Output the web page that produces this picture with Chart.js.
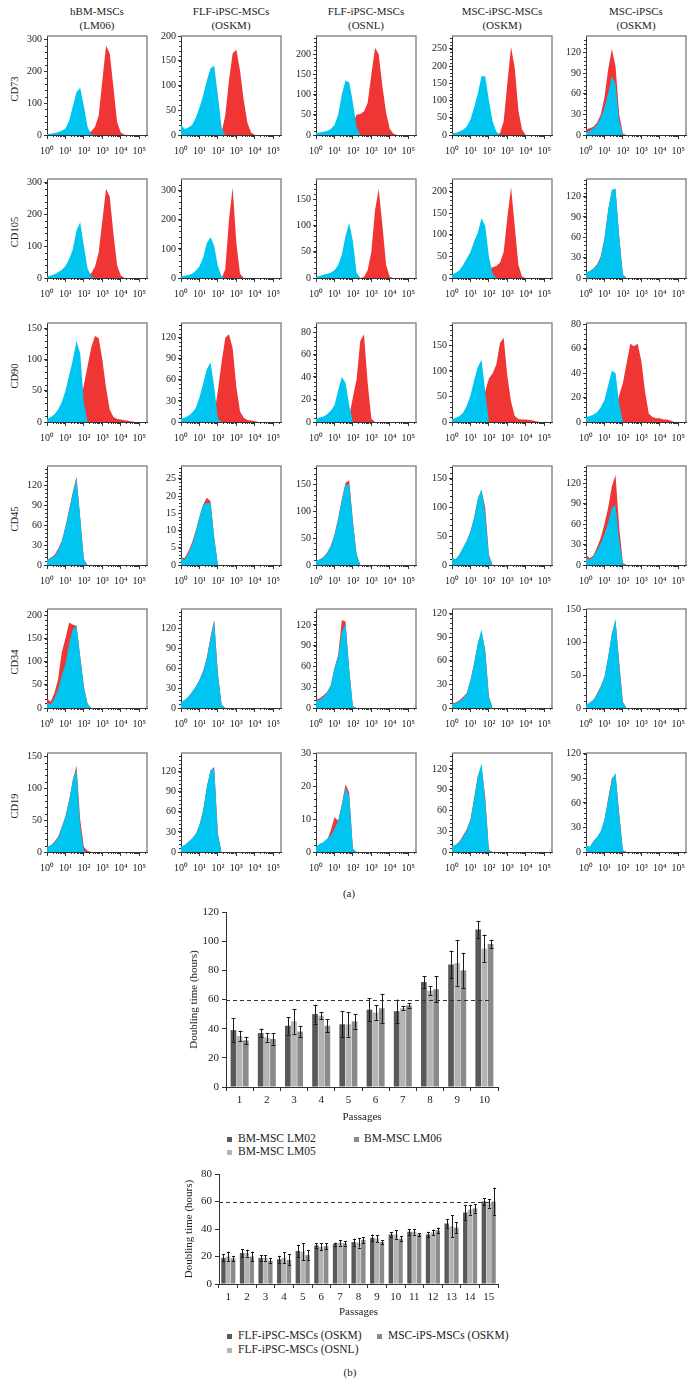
<!DOCTYPE html>
<html>
<head>
<meta charset="utf-8">
<script src="https://cdn.jsdelivr.net/npm/chart.js@4.4.1/dist/chart.umd.min.js"></script>
<style>
  body { margin: 0; background: #fff; width: 693px; height: 1383px; position: relative; overflow: hidden; }
  .box { position: absolute; }
  .txt { position: absolute; white-space: nowrap; line-height: 1; color: #222; font-family: "Liberation Serif", serif; }
  .sq { position: absolute; width: 5px; height: 5px; }
</style>
</head>
<body>
<script>
// ---------- flow cytometry histograms (a) ----------
// x grid in decades (10^0 .. 10^5.2), one value per step of 0.2
var LOGX = [0, 0.2, 0.4, 0.6, 0.8, 1.0, 1.2, 1.4, 1.6, 1.8, 2.0, 2.2, 2.4, 2.6, 2.8, 3.0, 3.2, 3.4, 3.6, 3.8, 4.0, 4.2, 4.4, 4.6, 4.8, 5.0, 5.2];
var DECADE_LABELS = ['10\u2070', '10\u00b9', '10\u00b2', '10\u00b3', '10\u2074', '10\u2075'];

var COLUMNS = [['hBM-MSCs', '(LM06)'], ['FLF-iPSC-MSCs', '(OSKM)'], ['FLF-iPSC-MSCs', '(OSNL)'],
               ['MSC-iPSC-MSCs', '(OSKM)'], ['MSC-iPSCs', '(OSKM)']];
var MARKERS = ['CD73', 'CD105', 'CD90', 'CD45', 'CD34', 'CD19'];

// y axis top and tick step of every panel (rows = markers, cols = cell lines)
var YMAX = [[310, 200, 245, 287, 144],
            [311, 340, 189, 229, 146],
            [159, 141, 88, 194, 81],
            [149, 28.7, 184, 172, 145],
            [214, 149, 143, 126, 150],
            [155, 148, 30, 143, 121]];
var YSTEP = [[100, 50, 50, 50, 30],
             [100, 100, 50, 50, 30],
             [50, 30, 20, 50, 20],
             [30, 5, 50, 50, 30],
             [50, 30, 30, 30, 50],
             [50, 30, 10, 30, 30]];

// blue = control, red = marker staining (counts on the LOGX grid)
var CD73_BLUE = [
  [3, 4, 6, 9, 13, 20, 45, 90, 135, 148, 90, 25, 2, 0],
  [20, 12, 15, 20, 35, 55, 80, 110, 135, 140, 80, 15, 0],
  [5, 6, 8, 10, 15, 25, 50, 100, 135, 130, 80, 20, 0],
  [5, 6, 10, 15, 25, 45, 80, 120, 170, 170, 100, 40, 10, 0],
  [4, 6, 10, 15, 25, 40, 60, 85, 75, 20, 0]];
var CD73_RED = [
  [0, 0, 0, 0, 0, 0, 0, 0, 0, 0, 0, 3, 12, 25, 60, 170, 280, 255, 150, 40, 8, 1, 0],
  [0, 0, 0, 0, 0, 0, 0, 0, 0, 0, 0, 5, 40, 110, 165, 172, 130, 70, 25, 5, 0],
  [0, 0, 0, 0, 0, 0, 0, 0, 0, 0, 30, 50, 52, 58, 80, 150, 215, 200, 120, 55, 15, 3, 0],
  [0, 0, 0, 0, 0, 0, 0, 0, 0, 0, 0, 0, 0, 5, 40, 150, 255, 195, 70, 15, 0],
  [8, 10, 12, 18, 30, 55, 95, 125, 100, 30, 2, 0]];

var CD105_BLUE = [
  [5, 8, 12, 18, 25, 38, 60, 90, 150, 175, 100, 30, 5, 0],
  [5, 8, 10, 15, 25, 40, 70, 120, 140, 110, 40, 5, 0],
  [3, 4, 6, 8, 10, 15, 25, 45, 80, 105, 70, 10, 0],
  [8, 12, 18, 30, 45, 60, 85, 105, 138, 120, 50, 10, 0],
  [8, 10, 14, 18, 30, 58, 100, 130, 132, 60, 5, 0]];
var CD105_RED = [
  [0, 0, 0, 0, 0, 0, 0, 0, 0, 0, 0, 10, 15, 35, 80, 180, 280, 255, 140, 40, 8, 0],
  [0, 0, 0, 0, 0, 0, 0, 0, 0, 0, 0, 0, 30, 200, 310, 120, 15, 0],
  [0, 0, 0, 0, 0, 0, 0, 0, 0, 0, 0, 0, 0, 2, 15, 50, 130, 170, 100, 25, 2, 0],
  [0, 0, 0, 0, 0, 0, 0, 0, 0, 0, 20, 25, 28, 35, 60, 140, 210, 120, 30, 3, 0],
  [8, 10, 14, 20, 32, 58, 100, 128, 130, 62, 5, 0]];

var CD90_BLUE = [
  [5, 8, 12, 20, 32, 50, 75, 100, 130, 110, 30, 0],
  [5, 6, 9, 13, 20, 35, 55, 75, 85, 50, 5, 0],
  [3, 4, 5, 7, 10, 15, 28, 40, 35, 15, 0],
  [5, 8, 12, 18, 32, 52, 82, 108, 122, 60, 0],
  [4, 5, 6, 8, 12, 18, 30, 42, 40, 15, 0]];
var CD90_RED = [
  [0, 0, 0, 0, 0, 0, 0, 0, 0, 30, 60, 90, 120, 138, 135, 100, 55, 20, 8, 5, 4, 3, 2, 1, 0],
  [0, 0, 0, 0, 0, 0, 0, 0, 0, 10, 45, 85, 120, 125, 105, 50, 15, 6, 3, 2, 1, 0],
  [0, 0, 0, 0, 0, 0, 0, 0, 0, 5, 22, 38, 72, 78, 35, 3, 0],
  [0, 0, 0, 0, 0, 0, 0, 0, 20, 60, 85, 95, 112, 155, 165, 90, 40, 12, 6, 5, 5, 4, 3, 1, 0],
  [0, 0, 0, 0, 0, 0, 0, 0, 8, 22, 32, 48, 64, 62, 64, 50, 25, 7, 4, 3, 3, 2, 2, 1, 0]];

var CD45_BLUE = [
  [8, 10, 13, 22, 35, 57, 82, 108, 130, 70, 8, 0],
  [2, 1.5, 3.5, 6, 9.5, 14, 17.5, 18, 18, 8, 0],
  [8, 10, 14, 22, 35, 55, 85, 120, 150, 150, 80, 20, 0],
  [12, 10, 18, 30, 42, 58, 82, 115, 132, 90, 15, 0],
  [10, 8, 12, 22, 32, 45, 62, 84, 88, 35, 2, 0]];
var CD45_RED = [
  [8, 11, 15, 24, 36, 58, 84, 110, 133, 72, 8, 0],
  [2.2, 2, 4, 6.5, 10, 14, 17.5, 19.5, 18.5, 8, 0],
  [8, 10, 15, 23, 36, 56, 87, 122, 153, 157, 82, 20, 0],
  [12, 10, 18, 30, 42, 58, 82, 115, 130, 100, 18, 0],
  [15, 10, 14, 26, 40, 60, 84, 115, 132, 55, 3, 0]];

var CD34_BLUE = [
  [10, 8, 20, 40, 70, 95, 140, 170, 178, 110, 45, 8, 0],
  [8, 12, 17, 24, 32, 42, 55, 75, 105, 130, 50, 5, 0],
  [10, 12, 16, 22, 32, 57, 75, 110, 122, 55, 2, 0],
  [5, 6, 9, 12, 18, 35, 57, 82, 100, 72, 14, 0],
  [5, 8, 12, 20, 32, 47, 77, 112, 135, 65, 8, 0]];
var CD34_RED = [
  [20, 14, 32, 62, 120, 150, 185, 180, 178, 112, 46, 9, 0],
  [8, 12, 17, 24, 32, 42, 56, 76, 107, 133, 52, 5, 0],
  [12, 14, 18, 23, 33, 58, 76, 127, 125, 56, 2, 0],
  [6, 7, 10, 14, 19, 35, 57, 82, 97, 74, 15, 0],
  [5, 8, 12, 22, 33, 47, 77, 112, 133, 70, 9, 0]];

var CD19_BLUE = [
  [8, 10, 15, 22, 38, 55, 80, 112, 130, 40, 2, 0],
  [8, 10, 15, 20, 27, 40, 62, 97, 122, 125, 25, 0],
  [1.5, 2.5, 3, 4, 5, 7, 9.5, 14, 19.5, 17, 1, 0],
  [8, 10, 14, 22, 31, 46, 75, 109, 128, 75, 2, 0],
  [8, 6, 13, 18, 25, 39, 63, 88, 97, 45, 2, 0]];
var CD19_RED = [
  [8, 10, 16, 24, 39, 56, 81, 113, 135, 50, 8, 2, 0],
  [8, 10, 15, 20, 27, 40, 62, 97, 122, 127, 27, 0],
  [1, 2, 2.5, 3.5, 6.5, 10.5, 9.5, 14.5, 20.5, 18, 1, 0],
  [8, 10, 15, 24, 33, 47, 78, 110, 124, 80, 3, 0],
  [8, 6, 13, 18, 25, 39, 65, 90, 94, 48, 2, 0]];

// ---------- doubling time bars (b) ----------
var PASSAGES_BM = ['1', '2', '3', '4', '5', '6', '7', '8', '9', '10'];
var BM_LM02 = [39, 37, 42, 50, 43, 53, 52, 72, 84, 108];
var BM_LM02_SD = [8, 3, 6, 6.5, 9, 8, 8, 4, 9.5, 6];
var BM_LM05 = [35, 34, 45, 49, 43, 51, 54, 66, 85, 95];
var BM_LM05_SD = [3.5, 3, 8.5, 2.5, 8.5, 5, 1.5, 3, 15.5, 9.5];
var BM_LM06 = [32, 33, 38, 42, 45, 54, 56, 67, 80, 98];
var BM_LM06_SD = [2.5, 4, 4, 4.5, 5, 10, 1.5, 9, 12, 3];

var PASSAGES_IPS = ['1', '2', '3', '4', '5', '6', '7', '8', '9', '10', '11', '12', '13', '14', '15'];
var FLF_OSKM = [19, 22.5, 19, 18, 24, 28, 29, 30.5, 33.5, 36, 38, 36, 44, 52, 60];
var FLF_OSKM_SD = [2.5, 3, 2, 2.5, 4.5, 1.5, 1, 2.5, 2.5, 1.5, 2, 2, 3, 5.5, 2.5];
var FLF_OSNL = [20, 22.5, 19, 19, 23.5, 27, 30, 30, 33, 36, 38, 37.5, 42, 54, 58.5];
var FLF_OSNL_SD = [3.5, 2.5, 2, 4, 6, 2.5, 2, 3.5, 2.5, 3, 2, 2, 8, 3.5, 3];
var MSC_OSKM = [18.5, 20, 17, 17.5, 21, 27.5, 29.5, 32, 30.5, 33, 36, 39, 41, 55, 60];
var MSC_OSKM_SD = [2, 3.5, 2, 4, 3.5, 2, 1.5, 2, 1.5, 2, 1, 2, 4, 3, 10];
var THRESHOLD = 60;

// ---------- layout ----------
var SERIF = '"Liberation Serif", "Times New Roman", serif';
Chart.defaults.font.family = SERIF;
Chart.defaults.color = '#222';

var BLUE = [CD73_BLUE, CD105_BLUE, CD90_BLUE, CD45_BLUE, CD34_BLUE, CD19_BLUE];
var RED = [CD73_RED, CD105_RED, CD90_RED, CD45_RED, CD34_RED, CD19_RED];

var COL_LEFT = [47, 181, 316, 452, 586];
var ROW_BOTTOM = [135, 278, 422, 565, 708, 852];
var PW = 100, PH = 99, YW = 40, PT = 8, PR = 6, XH = 26;

function addText(txt, x, y, size, left, rotate) {
    var d = document.createElement('div');
    d.className = 'txt';
    d.textContent = txt;
    d.style.left = x + 'px';
    d.style.top = y + 'px';
    d.style.fontSize = size + 'px';
    d.style.transform = 'translate(' + (left ? '0' : '-50%') + ',-50%)' + (rotate ? ' rotate(-90deg)' : '');
    document.body.appendChild(d);
}

function addSquare(color, x, y) {
    var s = document.createElement('div');
    s.className = 'sq';
    s.style.background = color;
    s.style.left = (x - 2.5) + 'px';
    s.style.top = (y - 2.5) + 'px';
    document.body.appendChild(s);
}

function addCanvas(left, top, w, h) {
    var div = document.createElement('div');
    div.className = 'box';
    div.style.left = left + 'px';
    div.style.top = top + 'px';
    div.style.width = w + 'px';
    div.style.height = h + 'px';
    var cv = document.createElement('canvas');
    cv.width = w;
    cv.height = h;
    div.appendChild(cv);
    document.body.appendChild(div);
    return cv;
}

function toPoints(values) {
    return values.map(function(v, i) { return { x: LOGX[i], y: v }; });
}

// grey frame on top/right + minor ticks
var framePlugin = {
    id: 'frame',
    afterDraw: function(chart) {
        var ctx = chart.ctx, a = chart.chartArea;
        var xs = chart.scales.x, ys = chart.scales.y;
        ctx.save();
        ctx.strokeStyle = '#8c8c8c';
        ctx.lineWidth = 1.5;
        ctx.beginPath();
        ctx.moveTo(a.left, a.top);
        ctx.lineTo(a.right, a.top);
        ctx.lineTo(a.right, a.bottom);
        ctx.stroke();
        ctx.strokeStyle = '#333';
        ctx.lineWidth = 1;
        ctx.beginPath();
        for (var d = 0; d <= 5; d++) {
            for (var k = 2; k <= 9; k++) {
                var v = d + Math.log10(k);
                if (v > xs.max) continue;
                var px = Math.round(xs.getPixelForValue(v)) + 0.5;
                ctx.moveTo(px, a.bottom);
                ctx.lineTo(px, a.bottom + 2);
            }
        }
        var step = chart.options.scales.y.ticks.stepSize / 5;
        for (var y = step; y < ys.max; y += step) {
            var py = Math.round(ys.getPixelForValue(y)) + 0.5;
            ctx.moveTo(a.left, py);
            ctx.lineTo(a.left - 2, py);
        }
        ctx.stroke();
        ctx.restore();
    }
};

function makeHistogram(r, c) {
    var w = YW + PW + PR, h = PT + PH + XH;
    var cv = addCanvas(COL_LEFT[c] - YW, ROW_BOTTOM[r] - PH - PT, w, h);
    var step = YSTEP[r][c], ymax = YMAX[r][c];
    new Chart(cv, {
        type: 'line',
        data: {
            datasets: [
                { data: toPoints(BLUE[r][c]), backgroundColor: '#00c5f0', borderColor: 'rgba(0,0,0,0)',
                  borderWidth: 0, pointRadius: 0, fill: 'origin', order: 0 },
                { data: toPoints(RED[r][c]), backgroundColor: '#f03535', borderColor: 'rgba(0,0,0,0)',
                  borderWidth: 0, pointRadius: 0, fill: 'origin', order: 1 }
            ]
        },
        options: {
            responsive: false,
            animation: false,
            events: [],
            layout: { padding: { top: PT, right: PR, left: 0, bottom: 0 } },
            plugins: { legend: { display: false }, tooltip: { enabled: false } },
            scales: {
                x: {
                    type: 'linear', min: 0, max: 5.42,
                    afterBuildTicks: function(s) { s.ticks = [0, 1, 2, 3, 4, 5].map(function(v) { return { value: v }; }); },
                    afterFit: function(s) { s.height = XH; s.paddingLeft = 0; s.paddingRight = 0; },
                    ticks: { callback: function(v) { return DECADE_LABELS[v]; }, autoSkip: false, maxRotation: 0,
                             font: { size: 10 }, padding: 6 },
                    grid: { drawOnChartArea: false, tickLength: 4, color: '#333' },
                    border: { color: '#333' }
                },
                y: {
                    min: 0, max: ymax,
                    afterBuildTicks: function(s) {
                        var t = [];
                        for (var k = 0; k * step <= ymax + 1e-9; k++) t.push({ value: k * step });
                        s.ticks = t;
                    },
                    afterFit: function(s) { s.width = YW; s.paddingTop = 0; s.paddingBottom = 0; },
                    ticks: { stepSize: step, font: { size: 10 }, padding: 2, autoSkip: false },
                    grid: { drawOnChartArea: false, tickLength: 3, color: '#333' },
                    border: { color: '#333' }
                }
            }
        },
        plugins: [framePlugin]
    });
}

for (var c = 0; c < 5; c++) {
    addText(COLUMNS[c][0], COL_LEFT[c] + PW / 2, 11, 11);
    addText(COLUMNS[c][1], COL_LEFT[c] + PW / 2, 25, 11);
}
for (var r = 0; r < 6; r++) {
    addText(MARKERS[r], 15, ROW_BOTTOM[r] - PH / 2 + 3, 10.5, false, true);
    for (var c2 = 0; c2 < 5; c2++) makeHistogram(r, c2);
}
addText('(a)', 349, 893, 11);

// ---------- bar charts ----------
var errorBars = {
    id: 'errorBars',
    afterDatasetsDraw: function(chart) {
        var ctx = chart.ctx, ys = chart.scales.y;
        ctx.save();
        ctx.strokeStyle = '#1a1a1a';
        ctx.lineWidth = 1;
        chart.data.datasets.forEach(function(ds, i) {
            chart.getDatasetMeta(i).data.forEach(function(bar, j) {
                var v = ds.data[j], e = ds.sd[j];
                var x = Math.round(bar.x) + 0.5;
                var top = ys.getPixelForValue(v + e), bot = ys.getPixelForValue(v - e);
                var cap = Math.max(1.5, bar.width * 0.35);
                ctx.beginPath();
                ctx.moveTo(x, top); ctx.lineTo(x, bot);
                ctx.moveTo(x - cap, Math.round(top) + 0.5); ctx.lineTo(x + cap, Math.round(top) + 0.5);
                ctx.moveTo(x - cap, Math.round(bot) + 0.5); ctx.lineTo(x + cap, Math.round(bot) + 0.5);
                ctx.stroke();
            });
        });
        var a = chart.chartArea;
        var py = Math.round(ys.getPixelForValue(THRESHOLD)) + 0.5;
        ctx.setLineDash([4, 3]);
        ctx.strokeStyle = '#333';
        ctx.beginPath();
        ctx.moveTo(a.left, py);
        ctx.lineTo(a.right - 6, py);
        ctx.stroke();
        ctx.restore();
    }
};

function makeBars(cfg) {
    var yw = 50, pt = 8, pr = 10;
    var w = yw + cfg.width + pr, h = pt + cfg.height + cfg.xh;
    var cv = addCanvas(cfg.left - yw, cfg.top - pt, w, h);
    new Chart(cv, {
        type: 'bar',
        data: {
            labels: cfg.labels,
            datasets: cfg.series.map(function(s) {
                return { data: s.data, sd: s.sd, backgroundColor: s.color, borderWidth: 0,
                         categoryPercentage: cfg.cat, barPercentage: 0.92 };
            })
        },
        options: {
            responsive: false,
            animation: false,
            events: [],
            layout: { padding: { top: pt, right: pr, left: 0, bottom: 0 } },
            plugins: { legend: { display: false }, tooltip: { enabled: false } },
            scales: {
                x: {
                    afterFit: function(s) { s.height = cfg.xh; s.paddingLeft = 0; s.paddingRight = 0; },
                    ticks: { font: { size: 11 }, padding: 3, autoSkip: false, maxRotation: 0 },
                    grid: { drawOnChartArea: false, tickLength: 4, color: '#333' },
                    border: { color: '#333' },
                    title: { display: true, text: 'Passages', font: { size: 11 }, padding: { top: 0, bottom: 1.5 } }
                },
                y: {
                    min: 0, max: cfg.ymax,
                    afterFit: function(s) { s.width = yw; s.paddingTop = 0; s.paddingBottom = 0; },
                    ticks: { stepSize: cfg.step, font: { size: 11 }, padding: 3 },
                    grid: { drawOnChartArea: false, tickLength: 4, color: '#333' },
                    border: { color: '#333' },
                    title: { display: true, text: 'Doubling time (hours)', font: { size: 11 }, padding: { top: cfg.tpad, bottom: 0 } }
                }
            }
        },
        plugins: [errorBars]
    });
}

var DARK = '#595959', LIGHT = '#b4b4b4', MID = '#8a8a8a';

makeBars({
    left: 226, top: 912, width: 272, height: 175, xh: 38, ymax: 120, step: 20, cat: 0.68, tpad: 12,
    labels: PASSAGES_BM,
    series: [
        { data: BM_LM02, sd: BM_LM02_SD, color: DARK },
        { data: BM_LM05, sd: BM_LM05_SD, color: LIGHT },
        { data: BM_LM06, sd: BM_LM06_SD, color: MID }
    ]
});
addSquare(DARK, 229, 1139); addText('BM-MSC LM02', 238, 1139, 11.5, true);
addSquare(MID, 356, 1139); addText('BM-MSC LM06', 364, 1139, 11.5, true);
addSquare(LIGHT, 229, 1152); addText('BM-MSC LM05', 238, 1152, 11.5, true);

makeBars({
    left: 219, top: 1174, width: 279, height: 110, xh: 36, ymax: 80, step: 10, cat: 0.78, tpad: 14,
    labels: PASSAGES_IPS,
    series: [
        { data: FLF_OSKM, sd: FLF_OSKM_SD, color: DARK },
        { data: FLF_OSNL, sd: FLF_OSNL_SD, color: LIGHT },
        { data: MSC_OSKM, sd: MSC_OSKM_SD, color: MID }
    ]
});
addSquare(DARK, 229, 1336); addText('FLF-iPSC-MSCs (OSKM)', 238, 1336, 11.5, true);
addSquare(MID, 379, 1336); addText('MSC-iPS-MSCs (OSKM)', 388, 1336, 11.5, true);
addSquare(LIGHT, 229, 1350); addText('FLF-iPSC-MSCs (OSNL)', 238, 1350, 11.5, true);
addText('(b)', 350, 1372, 11);
</script>
</body>
</html>
